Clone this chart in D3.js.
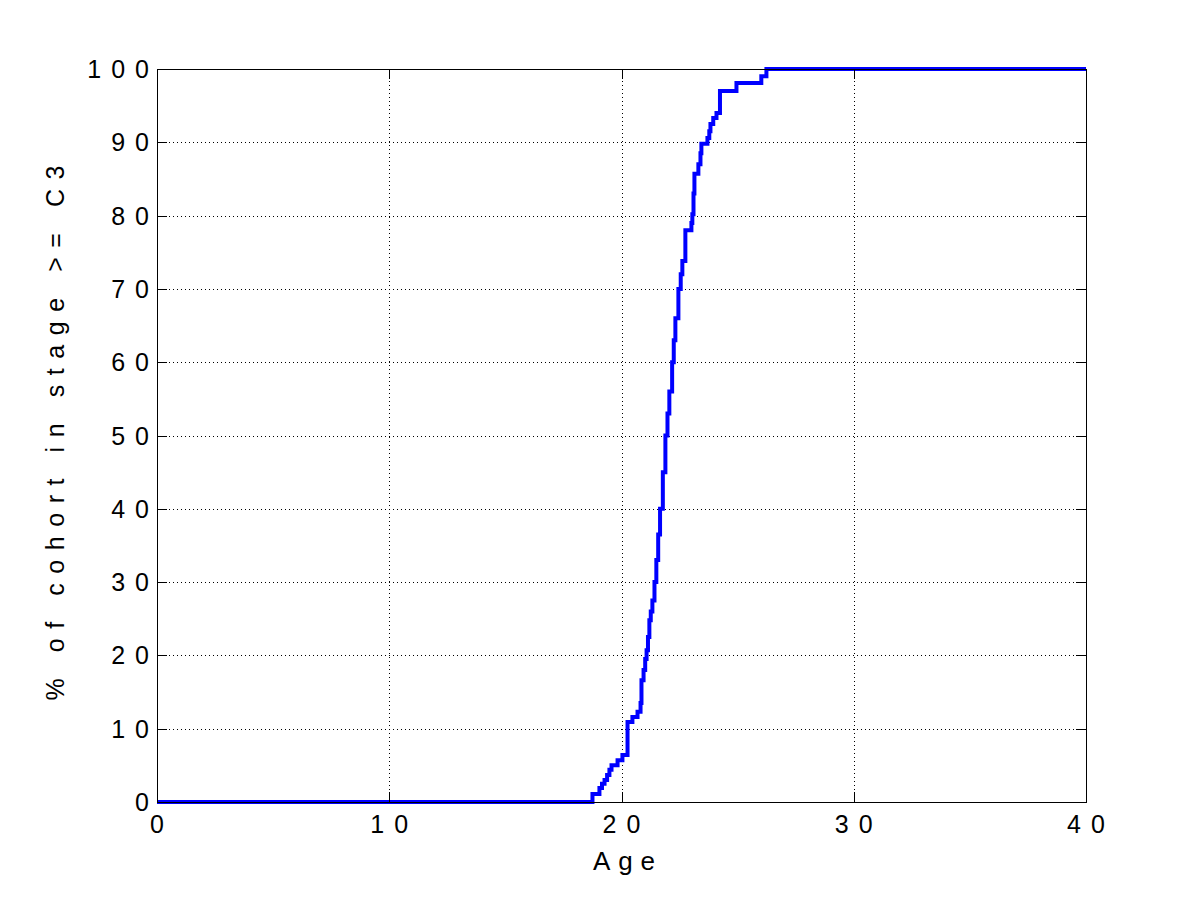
<!DOCTYPE html>
<html>
<head>
<meta charset="utf-8">
<script src="https://cdn.jsdelivr.net/npm/d3@7"></script>
<style>
  html, body { margin: 0; padding: 0; background: #fff; }
  svg { display: block; }
  text { font-family: "Liberation Sans", Arial, Helvetica, sans-serif; fill: #000; }
</style>
</head>
<body>
<svg id="chart" width="1200" height="901"></svg>
<script>
// ---- data ----
const ages = [0, 18.75, 19.05, 19.16, 19.27, 19.38, 19.48, 19.57, 19.83, 20.04, 20.26, 20.47, 20.69, 20.82,
  20.86, 20.95, 21.02, 21.08, 21.14, 21.20, 21.26, 21.33, 21.42, 21.50, 21.58, 21.66, 21.78, 21.89,
  21.98, 22.06, 22.18, 22.25, 22.32, 22.45, 22.55, 22.62, 22.75, 23.01, 23.05, 23.10, 23.14, 23.31,
  23.40, 23.44, 23.70, 23.78, 23.83, 23.95, 24.09, 24.24, 24.95, 26.02, 26.24, 40];
const pcts = [0, 1.1, 1.9, 2.5, 3.0, 3.7, 4.4, 5.0, 5.7, 6.4, 10.9, 11.6, 12.3, 13.5,
  16.6, 18.0, 19.5, 20.7, 22.5, 24.8, 26.0, 27.5, 30.0, 33.0, 36.5, 40.0, 45.0, 50.0,
  53.0, 56.0, 60.0, 63.0, 66.0, 70.0, 72.0, 73.8, 78.0, 79.0, 80.2, 83.0, 85.7, 87.0,
  88.5, 89.8, 90.6, 91.5, 92.5, 93.3, 94.0, 97.0, 98.1, 99.0, 100, 100];
const xTicks = [0, 10, 20, 30, 40];
const yTicks = [0, 10, 20, 30, 40, 50, 60, 70, 80, 90, 100];
const xLabel = "Age";
const yLabel = "% of cohort in stage >= C3";

// ---- layout ----
const L = 157, R = 1086, T = 69, B = 802;
const svg = d3.select("#chart");
const x = d3.scaleLinear().domain([0, 40]).range([L, R]);
const y = d3.scaleLinear().domain([0, 100]).range([B, T]);

const spaced = s => s.split("").join("\u2009\u2009");

// grid
const grid = svg.append("g");
grid.selectAll("line.gx").data(xTicks.slice(1, -1)).enter().append("line")
  .attr("x1", d => Math.round(x(d)) + 0.5).attr("x2", d => Math.round(x(d)) + 0.5)
  .attr("y1", T).attr("y2", B)
  .attr("stroke", "#000").attr("stroke-width", 1).attr("stroke-dasharray", "1,3");
grid.selectAll("line.gy").data(yTicks.slice(1, -1)).enter().append("line")
  .attr("y1", d => Math.round(y(d)) + 0.5).attr("y2", d => Math.round(y(d)) + 0.5)
  .attr("x1", L).attr("x2", R)
  .attr("stroke", "#000").attr("stroke-width", 1).attr("stroke-dasharray", "1,3");

// data line
const pts = ages.map((a, i) => [a, pcts[i]]);
const line = d3.line().x(d => x(d[0])).y(d => y(d[1])).curve(d3.curveStepAfter);
svg.append("path").datum(pts).attr("d", line)
  .attr("fill", "none").attr("stroke", "#0000ff").attr("stroke-width", 4)
  .attr("stroke-linejoin", "miter");

// axes box
svg.append("rect").attr("x", L + 0.5).attr("y", T + 0.5)
  .attr("width", R - L).attr("height", B - T)
  .attr("fill", "none").attr("stroke", "#000").attr("stroke-width", 1);

// ticks (inside, all four sides)
const tl = 10;
const tk = svg.append("g").attr("stroke", "#000").attr("stroke-width", 1);
xTicks.forEach(d => {
  const px = Math.round(x(d)) + 0.5;
  tk.append("line").attr("x1", px).attr("x2", px).attr("y1", B).attr("y2", B - tl);
  tk.append("line").attr("x1", px).attr("x2", px).attr("y1", T).attr("y2", T + tl);
});
yTicks.forEach(d => {
  const py = Math.round(y(d)) + 0.5;
  tk.append("line").attr("y1", py).attr("y2", py).attr("x1", L).attr("x2", L + tl);
  tk.append("line").attr("y1", py).attr("y2", py).attr("x1", R).attr("x2", R - tl);
});

// tick labels
const fs = 25;
svg.selectAll("text.xt").data(xTicks).enter().append("text")
  .attr("x", d => x(d)).attr("y", 833)
  .attr("text-anchor", "middle").attr("font-size", fs)
  .text(d => spaced(String(d)));
svg.selectAll("text.yt").data(yTicks).enter().append("text")
  .attr("x", 149).attr("y", d => y(d) + 9)
  .attr("text-anchor", "end").attr("font-size", fs)
  .text(d => spaced(String(d)));

// axis labels
svg.append("text").attr("x", 624).attr("y", 870)
  .attr("text-anchor", "middle").attr("font-size", 26)
  .attr("textLength", 62).attr("lengthAdjust", "spacing")
  .text(spaced(xLabel));
svg.append("text")
  .attr("transform", `translate(64,${433}) rotate(-90)`)
  .attr("text-anchor", "middle").attr("font-size", 25)
  .attr("textLength", 535).attr("lengthAdjust", "spacing")
  .text(spaced(yLabel));
</script>
</body>
</html>
